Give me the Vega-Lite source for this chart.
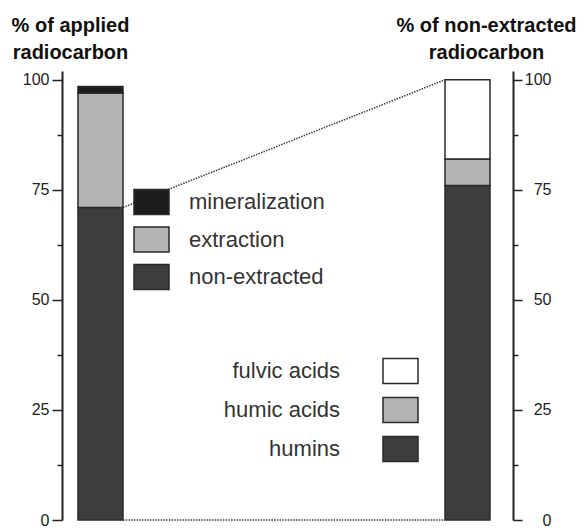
{
  "$schema": "https://vega.github.io/schema/vega-lite/v6.json",
  "width": 451,
  "height": 449,
  "autosize": {"type": "none"},
  "padding": {"left": 62, "top": 71, "right": 70, "bottom": 9},
  "config": {
    "view": {"stroke": null},
    "font": "Liberation Sans",
    "axis": {
      "domainColor": "#222",
      "domainWidth": 2,
      "tickColor": "#222",
      "tickWidth": 1.5,
      "labelFont": "Liberation Sans",
      "labelFontSize": 16,
      "labelColor": "#222",
      "grid": false,
      "titleFont": "Liberation Sans",
      "titleFontSize": 20,
      "titleFontWeight": "bold",
      "titleColor": "#111",
      "titleAngle": 0,
      "titleAlign": "center",
      "titleBaseline": "alphabetic",
      "titleLineHeight": 27
    },
    "legend": {
      "padding": 0,
      "symbolType": "M-1,-0.714H1V0.714H-1Z",
      "symbolSize": 1225,
      "symbolStrokeColor": "#2a2a2a",
      "symbolStrokeWidth": 1.5,
      "symbolOpacity": 1,
      "labelFont": "Liberation Sans",
      "labelFontSize": 22,
      "labelColor": "#333",
      "labelLimit": 300
    }
  },
  "layer": [
    {
      "description": "dotted connectors between the two columns",
      "data": {
        "values": [
          {"from": "applied", "to": "non-extracted", "lo": 71, "hi": 100},
          {"from": "applied", "to": "non-extracted", "lo": 0, "hi": 0}
        ]
      },
      "mark": {"type": "rule", "color": "#444", "strokeWidth": 1.6, "strokeDash": [1.5, 1.2]},
      "encoding": {
        "x": {"field": "from", "type": "nominal", "bandPosition": 1,
              "scale": {"domain": ["applied", "non-extracted"], "paddingInner": 0.8774, "paddingOuter": 0.0531, "align": 0.41},
              "axis": null},
        "x2": {"field": "to", "bandPosition": 0},
        "y": {"field": "lo", "type": "quantitative", "scale": {"domain": [0, 102], "nice": false}, "axis": null},
        "y2": {"field": "hi"}
      }
    },
    {
      "description": "fate of applied radiocarbon",
      "data": {
        "values": [
          {"bar": "applied", "part": "non-extracted", "pct": 71, "rank": 1},
          {"bar": "applied", "part": "extraction", "pct": 26, "rank": 2},
          {"bar": "applied", "part": "mineralization", "pct": 1.5, "rank": 3}
        ]
      },
      "mark": {"type": "bar", "stroke": "#2a2a2a", "strokeWidth": 1.5},
      "encoding": {
        "x": {"field": "bar", "type": "nominal", "axis": null},
        "y": {
          "field": "pct", "type": "quantitative", "stack": "zero",
          "scale": {"domain": [0, 102], "nice": false},
          "axis": {
            "orient": "left",
            "values": [0, 12.5, 25, 37.5, 50, 62.5, 75, 87.5, 100],
            "labelExpr": "datum.value % 25 === 0 ? datum.label : ''",
            "tickSize": {"condition": {"test": "datum.value % 25 !== 0", "value": 5}, "value": 10},
            "labelPadding": 3,
            "title": ["% of applied", "radiocarbon"],
            "titleX": 8,
            "titleY": -40
          }
        },
        "color": {
          "field": "part", "type": "nominal",
          "scale": {"domain": ["mineralization", "extraction", "non-extracted"], "range": ["#1c1c1c", "#b3b3b3", "#3d3d3d"]},
          "legend": {"title": null, "orient": "none", "legendX": 71, "legendY": 112.5, "labelOffset": 19, "rowPadding": 3.5}
        },
        "order": {"field": "rank", "type": "quantitative"}
      }
    },
    {
      "description": "composition of the non-extracted radiocarbon",
      "data": {
        "values": [
          {"bar": "non-extracted", "part": "humins", "pct": 76, "rank": 1},
          {"bar": "non-extracted", "part": "humic acids", "pct": 6, "rank": 2},
          {"bar": "non-extracted", "part": "fulvic acids", "pct": 18, "rank": 3}
        ]
      },
      "mark": {"type": "bar", "stroke": "#2a2a2a", "strokeWidth": 1.5},
      "encoding": {
        "x": {"field": "bar", "type": "nominal", "axis": null},
        "y": {
          "field": "pct", "type": "quantitative", "stack": "zero",
          "scale": {"domain": [0, 102], "nice": false},
          "axis": {
            "orient": "right",
            "values": [0, 12.5, 25, 37.5, 50, 62.5, 75, 87.5, 100],
            "labelExpr": "datum.value % 25 === 0 ? datum.label : ''",
            "tickSize": {"condition": {"test": "datum.value % 25 !== 0", "value": 5}, "value": 9},
            "labelAlign": "right",
            "labelPadding": 29,
            "title": ["% of non-extracted", "radiocarbon"],
            "titleX": -27,
            "titleY": -40
          }
        },
        "color": {
          "field": "part", "type": "nominal",
          "scale": {"domain": ["fulvic acids", "humic acids", "humins"], "range": ["#ffffff", "#b3b3b3", "#3d3d3d"]},
          "legend": {"title": null, "orient": "none", "legendX": 320, "legendY": 281.5, "labelAlign": "right", "labelOffset": -79, "rowPadding": 5}
        },
        "order": {"field": "rank", "type": "quantitative"}
      }
    }
  ],
  "resolve": {"scale": {"color": "independent"}, "axis": {"y": "independent"}}
}
